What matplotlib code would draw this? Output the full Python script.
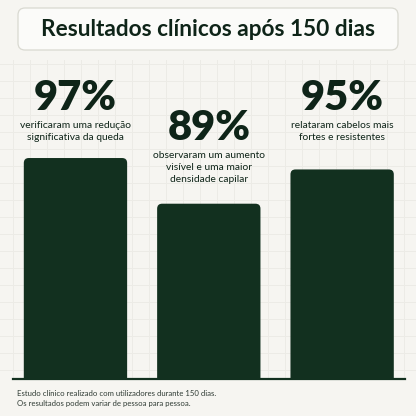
import matplotlib
matplotlib.use("Agg")
import matplotlib.pyplot as plt
from matplotlib.patches import FancyBboxPatch
from matplotlib.transforms import blended_transform_factory

categories = ["Redução da queda", "Densidade capilar", "Cabelos mais fortes"]
values = [97, 89, 95]
value_labels = ["97%", "89%", "95%"]
descriptions = [
    "verificaram uma redução\nsignificativa da queda",
    "observaram um aumento\nvisível e uma maior\ndensidade capilar",
    "relataram cabelos mais\nfortes e resistentes",
]
title = "Resultados clínicos após 150 dias"
footnote = "Estudo clínico realizado com utilizadores durante 150 dias.\nOs resultados podem variar de pessoa para pessoa."

bg_color = "#f6f5f1"
green = "#12301f"
text_dark = "#0e2418"

W = H = 416
fig = plt.figure(figsize=(W / 100, H / 100), dpi=100)
fig.patch.set_facecolor(bg_color)

# background layer in pixel coords (grid, title box, baseline)
bg = fig.add_axes([0, 0, 1, 1])
bg.set_xlim(0, W)
bg.set_ylim(H, 0)
bg.axis("off")
bg.set_facecolor(bg_color)

for gx in range(13, W, 17):
    bg.plot([gx, gx], [60, 379], color="#ecebe6", lw=0.7, zorder=0)
for gy in range(64, 379, 17):
    bg.plot([0, W], [gy, gy], color="#ecebe6", lw=0.7, zorder=0)

box = FancyBboxPatch((18, 8), 380, 42, boxstyle="round,pad=0,rounding_size=7",
                     facecolor="#fbfbf9", edgecolor="#d9d9d1", lw=0.9, zorder=2)
bg.add_patch(box)
bg.text(208, 29.5, title, ha="center", va="center", fontsize=16.3,
        fontweight="bold", family="Lato", color=text_dark, zorder=3)

bg.plot([13, 405], [379, 379], color=green, lw=1.6, zorder=5)
bg.text(17, 390, footnote, ha="left", va="top", fontsize=5.6, family="Lato",
        color="#2e3a33", linespacing=1.55)

# data axes
base_px, top_px = 379, 60
px_per_unit = 5.71
y0 = 58.3
ax = fig.add_axes([0, (H - base_px) / H, 1, (base_px - top_px) / H])
ax.set_xlim(-0.566, 2.554)
ax.set_ylim(y0, y0 + (base_px - top_px) / px_per_unit)
ax.axis("off")
ax.patch.set_alpha(0)

bars = ax.bar(range(len(values)), values, width=0.775, bottom=0, color=green)
x_px_per_unit = W / (2.554 + 0.566)
for b in bars:
    b.set_visible(False)
    rb = FancyBboxPatch((b.get_x(), y0 - 5), b.get_width(), b.get_height() - y0 + 5,
                        boxstyle="round,pad=0,rounding_size=%f" % (5 / x_px_per_unit),
                        mutation_aspect=x_px_per_unit / px_per_unit,
                        facecolor=green, edgecolor="none", zorder=3)
    ax.add_patch(rb)

tr = blended_transform_factory(ax.transData, bg.transData)
num_y = [98, 128, 98]
desc_y = [121.5, 151, 121.5]
for i in range(len(values)):
    ax.text(i, num_y[i], value_labels[i], transform=tr, ha="center", va="center",
            fontsize=30, fontweight="heavy", family="Lato", color=text_dark)
    ax.text(i, desc_y[i], descriptions[i], transform=tr, ha="center", va="top",
            fontsize=7.4, family="Lato", color=text_dark, linespacing=1.42,
            multialignment="center")

fig.savefig("out.png", dpi=100, facecolor=bg_color)
